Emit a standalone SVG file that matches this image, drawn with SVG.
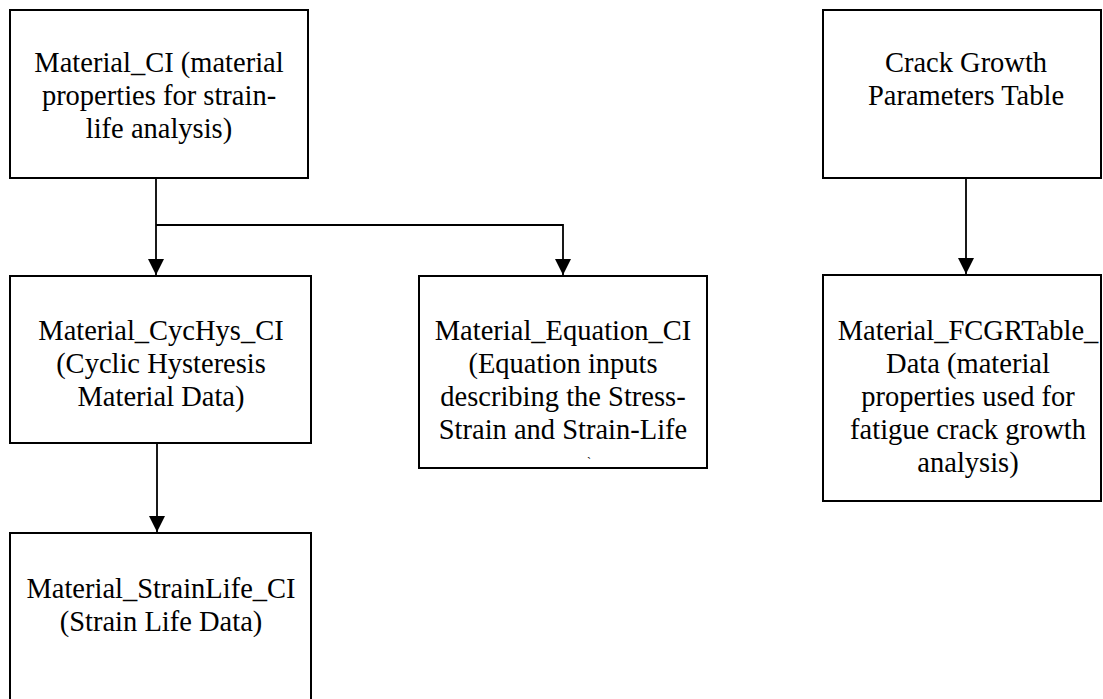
<svg xmlns="http://www.w3.org/2000/svg" width="1103" height="699" viewBox="0 0 1103 699">
  <style>
    .box { fill: #ffffff; stroke: #000000; stroke-width: 2; }
    .label { font-family: "Liberation Serif", "Times New Roman", serif; font-size: 28.5px; fill: #000000; text-anchor: middle; }
    .wire { fill: none; stroke: #000000; stroke-width: 1.8; }
  </style>
  <defs>
    <marker id="arrow" viewBox="0 0 16 16" refX="16" refY="8" markerWidth="16" markerHeight="16" markerUnits="userSpaceOnUse" orient="auto">
      <path d="M0,0 L16,8 L0,16 Z" fill="#000000"/>
    </marker>
  </defs>
  <rect width="1103" height="699" fill="#ffffff"/>

  <!-- connectors -->
  <g id="connectors">
    <path class="wire" d="M156,178 V275" marker-end="url(#arrow)"/>
    <path class="wire" d="M156,225 H563 V275" marker-end="url(#arrow)"/>
    <path class="wire" d="M157,443 V532" marker-end="url(#arrow)"/>
    <path class="wire" d="M966,178 V274" marker-end="url(#arrow)"/>
  </g>

  <!-- strain-life material record -->
  <g id="material_ci">
    <rect class="box" x="10" y="10" width="298" height="168"/>
    <text class="label" x="159" y="72">Material_CI (material</text>
    <text class="label" x="159" y="105">properties for strain-</text>
    <text class="label" x="159" y="138">life analysis)</text>
  </g>

  <g id="material_cychys_ci">
    <rect class="box" x="10" y="276" width="301" height="167"/>
    <text class="label" x="161" y="340">Material_CycHys_CI</text>
    <text class="label" x="161" y="373">(Cyclic Hysteresis</text>
    <text class="label" x="161" y="406">Material Data)</text>
  </g>

  <g id="material_equation_ci">
    <rect class="box" x="419" y="276" width="288" height="192"/>
    <text class="label" x="563" y="340">Material_Equation_CI</text>
    <text class="label" x="563" y="373">(Equation inputs</text>
    <text class="label" x="563" y="406">describing the Stress-</text>
    <text class="label" x="563" y="439">Strain and Strain-Life</text>
    <text class="label" x="589" y="466" style="font-size:12px">`</text>
  </g>

  <g id="material_strainlife_ci">
    <rect class="box" x="10" y="533" width="301" height="180"/>
    <text class="label" x="161" y="598">Material_StrainLife_CI</text>
    <text class="label" x="161" y="631">(Strain Life Data)</text>
  </g>

  <!-- crack growth branch -->
  <g id="crack_growth_table">
    <rect class="box" x="823" y="10" width="278" height="168"/>
    <text class="label" x="966" y="72">Crack Growth</text>
    <text class="label" x="966" y="105">Parameters Table</text>
  </g>

  <g id="material_fcgrtable_data">
    <rect class="box" x="823" y="275" width="278" height="226"/>
    <text class="label" x="968" y="340">Material_FCGRTable_</text>
    <text class="label" x="968" y="373">Data (material</text>
    <text class="label" x="968" y="406">properties used for</text>
    <text class="label" x="968" y="439">fatigue crack growth</text>
    <text class="label" x="968" y="472">analysis)</text>
  </g>
</svg>
